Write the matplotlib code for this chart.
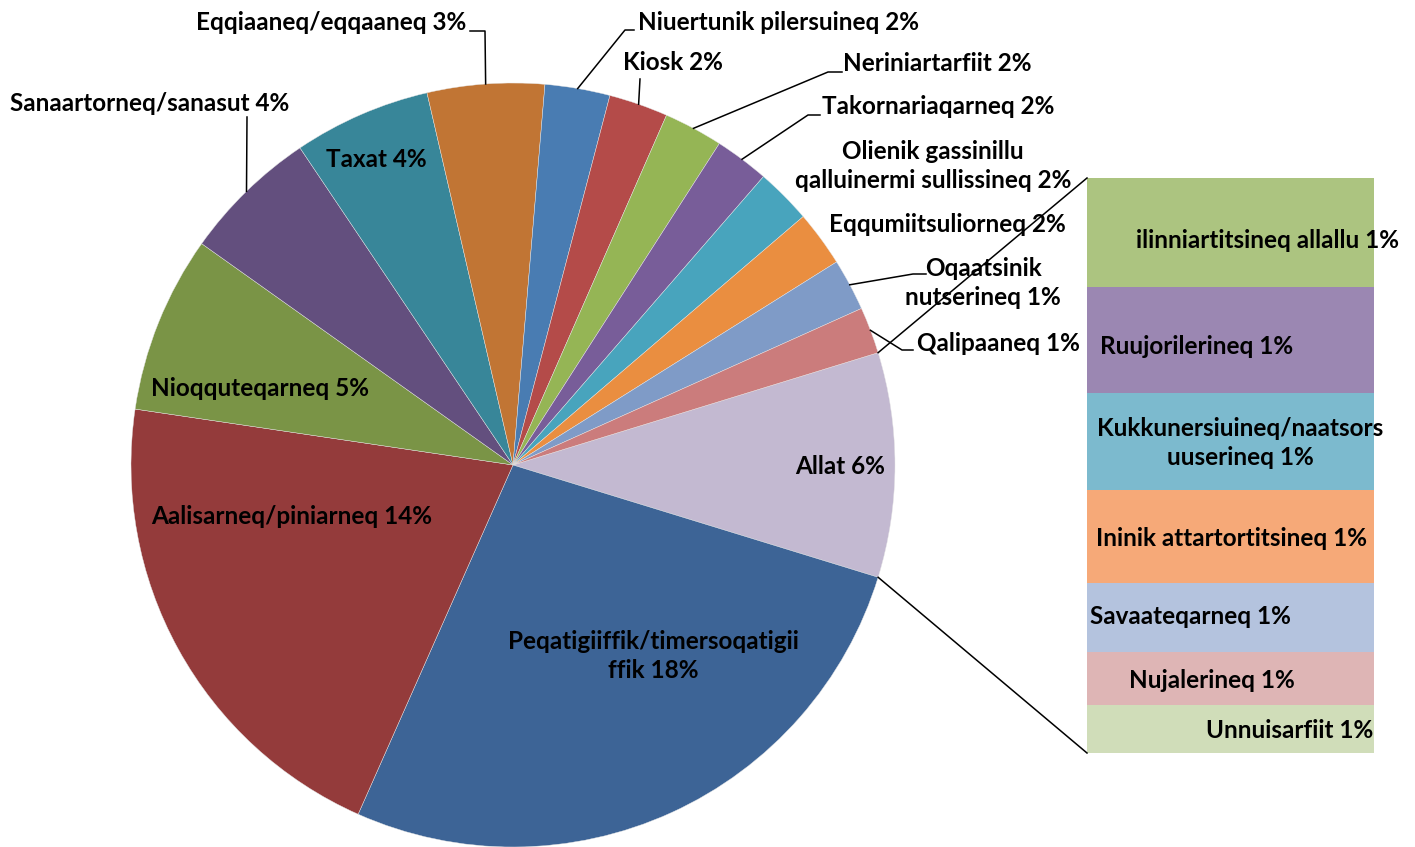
import numpy as np
import matplotlib
matplotlib.use("Agg")
import matplotlib.pyplot as plt

# Pie shares and the printed labels
pie_labels = ["Allat 6%",
              "Peqatigiiffik/timersoqatigii\nffik 18%",
              "Aalisarneq/piniarneq 14%",
              "Nioqquteqarneq 5%",
              "Sanaartorneq/sanasut 4%",
              "Taxat 4%",
              "Eqqiaaneq/eqqaaneq 3%",
              "Niuertunik pilersuineq 2%",
              "Kiosk 2%",
              "Neriniartarfiit 2%",
              "Takornariaqarneq 2%",
              "Olienik gassinillu\nqalluinermi sullissineq 2%",
              "Eqqumiitsuliorneq 2%",
              "Oqaatsinik\nnutserineq 1%",
              "Qalipaaneq 1%"]
pie_values = [9.5, 26.9, 20.7, 7.5, 5.75, 5.8, 4.95, 2.75, 2.5, 2.5, 2.3, 2.35, 2.35, 2.2, 1.97]
pie_colors = ["#C3B9D1", "#3D6496", "#943B3B", "#7A9446", "#634F7E", "#388699", "#C17534",
              "#497CB2", "#B44B49", "#95B555", "#785D99", "#48A4BD", "#EA8E40", "#7F9BC7", "#CB7C7C"]

# Secondary bar (breakdown of "Allat")
bar_labels = ["ilinniartitsineq allallu 1%",
              "Ruujorilerineq 1%",
              "Kukkunersiuineq/naatsors\nuuserineq 1%",
              "Ininik attartortitsineq 1%",
              "Savaateqarneq 1%",
              "Nujalerineq 1%",
              "Unnuisarfiit 1%"]
bar_values = [1.80, 1.75, 1.60, 1.54, 1.14, 0.88, 0.79]
bar_colors = ["#ACC480", "#9B87B2", "#7CBACE", "#F6A978", "#B4C3DE", "#DEB5B5", "#D0DDB9"]

W, H = 1415, 847
fig = plt.figure(figsize=(W/100, H/100), dpi=100)
ax = fig.add_axes([0, 0, 1, 1])

cx, cy, R = 513, H-465, 382
start = 180*pie_values[0]/100  # "Allat" centred on the bar side
wedges, _ = ax.pie(pie_values, colors=pie_colors, startangle=start, counterclock=False,
                   center=(cx, cy), radius=R,
                   wedgeprops=dict(edgecolor="#e6e6e6", linewidth=0.3))
ax.set_xlim(0, W)
ax.set_ylim(0, H)
ax.set_aspect("equal")
ax.axis("off")

font = dict(family=["Lato", "DejaVu Sans"], fontweight="bold", fontsize=17.5, color="black")
ls = 1.3

def rim(i, r=R):
    w = wedges[i]
    a = np.deg2rad((w.theta1 + w.theta2)/2)
    return cx + r*np.cos(a), cy + r*np.sin(a)

# labels inside the pie (pixel coords from top)
inside = {0: (840, 466), 1: (653, 656), 2: (292, 517), 3: (260, 388), 5: (376, 159)}
for i, (x, y) in inside.items():
    ax.text(x, H-y, pie_labels[i], ha="center", va="center", linespacing=ls, **font)

# outside labels with leader lines: (text x, text y, ha, leader points)
outside = {
    4: (10, 103, "left", [(247, 117)]),
    6: (466, 22, "right", [(485, 31), (470, 31)]),
    7: (638, 22, "left", [(625, 30), (634, 30)]),
    8: (623, 62, "left", [(640, 79)]),
    9: (843, 63, "left", [(828, 72), (842, 72)]),
    10: (822, 106, "left", [(808, 115), (820, 115)]),
    11: (933, 166, "center", []),
    12: (947, 224, "center", []),
    13: (983, 283, "center", [(913, 274), (926, 274)]),
    14: (917, 343, "left", [(902, 350), (913, 350)]),
}
for i, (x, y, ha, pts) in outside.items():
    ax.text(x, H-y, pie_labels[i], ha=ha, va="center", linespacing=ls, **font)
    if pts:
        x0, y0 = rim(i)
        xs = [x0] + [p[0] for p in pts]
        ys = [y0] + [H-p[1] for p in pts]
        ax.plot(xs, ys, color="black", lw=1.1)

# stacked bar of the "other" slice
bx, bw = 1087, 287
btop, bbot = H-178, H-753
scale = (btop - bbot)/sum(bar_values)
bottom = btop
bar_text = [(1268, 240), (1197, 346), (1240, 443), (1232, 538), (1190, 616), (1212, 680), (1290, 730)]
for val, col, lab, (tx, ty) in zip(bar_values, bar_colors, bar_labels, bar_text):
    h = val*scale
    ax.bar(bx, -h, width=bw, bottom=bottom, align="edge", color=col, edgecolor="none")
    bottom -= h
    ax.text(tx, H-ty, lab, ha="center", va="center", linespacing=ls, **font)

# connector lines from the "Allat" slice to the bar
w0 = wedges[0]
for ang, yb in [(w0.theta2, btop), (w0.theta1, bbot)]:
    a = np.deg2rad(ang)
    ax.plot([cx + R*np.cos(a), bx], [cy + R*np.sin(a), yb], color="black", lw=1.1)

fig.savefig("out.png", dpi=100)
